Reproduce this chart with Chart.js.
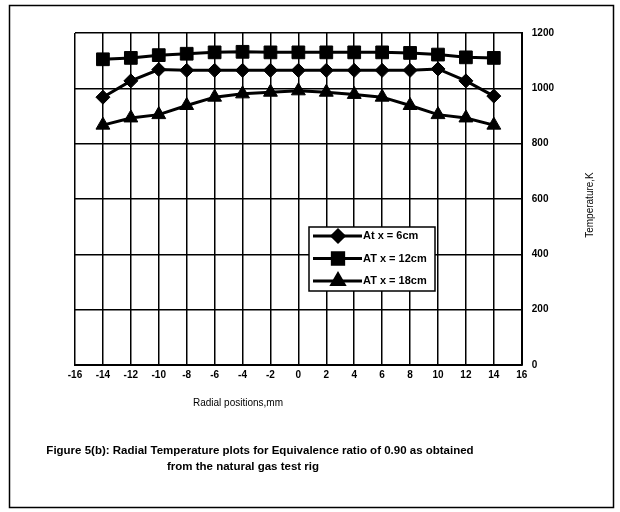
<!DOCTYPE html>
<html>
<head>
<meta charset="utf-8">
<script src="https://cdn.jsdelivr.net/npm/chart.js@4.4.1/dist/chart.umd.min.js"></script>
<style>
    html, body {
        margin: 0;
        padding: 0;
        background: #ffffff;
    }
    #wrap {
        width: 620px;
        height: 512px;
    }
</style>
</head>
<body>
<div id="wrap"><canvas id="tempChart" width="620" height="512"></canvas></div>
<script>

// radial positions, mm
const positions = [-14, -12, -10, -8, -6, -4, -2, 0, 2, 4, 6, 8, 10, 12, 14];

// temperature, K
const temp6cm = [968, 1027, 1068, 1065, 1065, 1065, 1065, 1065, 1065, 1065, 1065, 1065, 1070, 1027, 972];
const temp12cm = [1105, 1110, 1120, 1125, 1130, 1132, 1130, 1130, 1130, 1130, 1130, 1128, 1122, 1112, 1110];
const temp18cm = [867, 893, 905, 938, 968, 980, 986, 991, 986, 978, 968, 938, 905, 893, 867];

const seriesLabels = ["At x = 6cm", "AT x = 12cm", "AT x = 18cm"];
const seriesPoints = ["rectRot", "rect", "triangle"];
const seriesRadius = [7, 9, 8];

const xTicks = { min: -16, max: 16, step: 2 };
const yTicks = { min: 0, max: 1200, step: 200 };

const xTitle = "Radial positions,mm";
const yTitle = "Temperature,K";
const caption = [
    "Figure 5(b): Radial Temperature plots for Equivalence ratio of 0.90 as obtained",
    "from the natural gas test rig"
];

const fontFamily = "'Liberation Sans', Arial, sans-serif";

function toPoints(values) {
    return positions.map((x, i) => ({ x: x, y: values[i] }));
}

const allSeries = [temp6cm, temp12cm, temp18cm];

const datasets = allSeries.map((values, i) => ({
    label: seriesLabels[i],
    data: toPoints(values),
    borderColor: "#000000",
    backgroundColor: "#000000",
    borderWidth: 3,
    pointStyle: seriesPoints[i],
    pointRadius: seriesRadius[i],
    pointBackgroundColor: "#000000",
    pointBorderColor: "#000000",
    pointBorderWidth: 1,
    tension: 0,
    fill: false
}));

// frame, axis titles, caption and the boxed legend inside the plot
const decorations = {
    id: "decorations",
    beforeDraw(chart) {
        const ctx = chart.ctx;
        ctx.save();
        ctx.fillStyle = "#ffffff";
        ctx.fillRect(0, 0, chart.width, chart.height);
        ctx.restore();
    },
    afterDraw(chart) {
        const ctx = chart.ctx;
        const area = chart.chartArea;

        ctx.save();
        ctx.strokeStyle = "#000000";
        ctx.lineWidth = 1.5;
        ctx.strokeRect(9.5, 5.5, 604, 502);

        ctx.fillStyle = "#000000";
        ctx.textAlign = "center";
        ctx.textBaseline = "middle";

        // x axis title
        ctx.font = "10px " + fontFamily;
        ctx.fillText(xTitle, 238, 403);

        // caption under the chart
        ctx.font = "bold 11.5px " + fontFamily;
        ctx.fillText(caption[0], 260, 451);
        ctx.fillText(caption[1], 243, 467);

        // y axis title, reads bottom to top
        ctx.translate(590, (area.top + area.bottom) / 2 + 6);
        ctx.rotate(-Math.PI / 2);
        ctx.font = "10px " + fontFamily;
        ctx.fillText(yTitle, 0, 0);
        ctx.restore();

        // legend box
        const boxX = area.left + 234;
        const boxY = 227;
        const boxW = 126;
        const boxH = 64;
        ctx.save();
        ctx.fillStyle = "#ffffff";
        ctx.fillRect(boxX, boxY, boxW, boxH);
        ctx.strokeStyle = "#000000";
        ctx.lineWidth = 1.5;
        ctx.strokeRect(boxX, boxY, boxW, boxH);

        seriesLabels.forEach((label, i) => {
            const y = boxY + 9 + i * 22.5;
            ctx.strokeStyle = "#000000";
            ctx.lineWidth = 3;
            ctx.beginPath();
            ctx.moveTo(boxX + 4, y);
            ctx.lineTo(boxX + 53, y);
            ctx.stroke();
            ctx.fillStyle = "#000000";
            Chart.helpers.drawPoint(ctx, {
                pointStyle: seriesPoints[i],
                radius: seriesRadius[i] - 1,
                rotation: 0,
                borderWidth: 1
            }, boxX + 29, y);
            ctx.fillStyle = "#000000";
            ctx.font = "bold 11px " + fontFamily;
            ctx.textAlign = "left";
            ctx.textBaseline = "middle";
            ctx.fillText(label, boxX + 54, y);
        });
        ctx.restore();
    }
};

new Chart(document.getElementById("tempChart"), {
    type: "line",
    data: { datasets: datasets },
    options: {
        responsive: false,
        animation: false,
        layout: {
            padding: { left: 75, top: 33, right: 56, bottom: 127 }
        },
        plugins: {
            legend: { display: false },
            tooltip: { enabled: false },
            title: { display: false }
        },
        scales: {
            x: {
                type: "linear",
                min: xTicks.min,
                max: xTicks.max,
                ticks: {
                    stepSize: xTicks.step,
                    color: "#000000",
                    padding: 4,
                    maxRotation: 0,
                    font: { family: fontFamily, size: 10, weight: "bold" }
                },
                grid: { color: "#000000", lineWidth: 1.5, drawTicks: false },
                border: { color: "#000000", width: 2 }
            },
            y: {
                position: "right",
                min: yTicks.min,
                max: yTicks.max,
                ticks: {
                    stepSize: yTicks.step,
                    color: "#000000",
                    padding: 10,
                    font: { family: fontFamily, size: 10, weight: "bold" },
                    callback: (value) => String(value)
                },
                grid: { color: "#000000", lineWidth: 1.5, drawTicks: false },
                border: { color: "#000000", width: 2 }
            }
        }
    },
    plugins: [decorations]
});

</script>
</body>
</html>
